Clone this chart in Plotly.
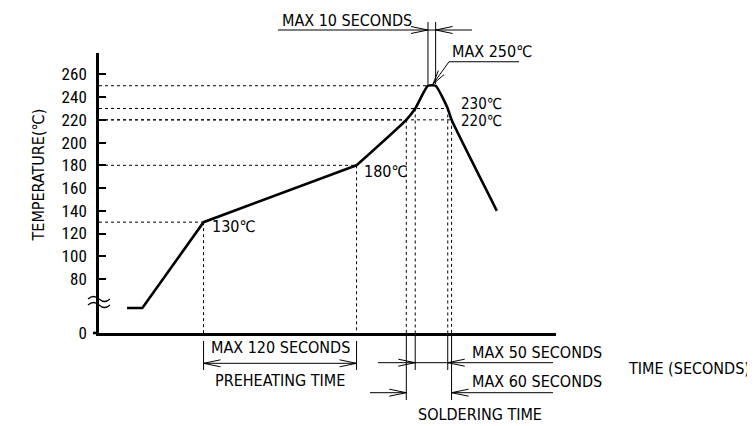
import plotly.graph_objects as go

# ---------------- data ----------------
time_s = [22, 34, 82, 202, 241, 248, 258, 264, 273.5, 276.5, 312]
temp_c = [22, 22, 130, 180, 220, 230, 250, 250, 230, 220, 140]

ytick_vals = [0, 80, 100, 120, 140, 160, 180, 200, 220, 240, 260]
ytick_text = [str(v) for v in ytick_vals]

# guide points (time, temperature) marked with dashed lines
guide_time = [82, 202, 241, 248, 273.5, 276.5]
guide_temp = [130, 180, 220, 230, 230, 220]
peak_temp = 250
peak_start, peak_end = 258, 264

preheat_window = (82, 202)      # MAX 120 SECONDS
above230_window = (248, 273.5)  # MAX 50 SECONDS
above220_window = (241, 276.5)  # MAX 60 SECONDS
peak_window = (258, 264)        # MAX 10 SECONDS

X_MAX = 358.4
BREAK_OFFSET = 32.5   # axis break: values below the break are shifted up
Y_LO, Y_HI = 32.5, 278.8


def axis_y(t):
    return t + BREAK_OFFSET if t < 60 else t


# ---------------- layout geometry ----------------
OFF = 8                      # page body margin of the html page
W, H = 755 - OFF, 426 - OFF
ML, MT = 99 - OFF, 53 - OFF
PW, PH = 457, 280
MR, MB = W - ML - PW, H - MT - PH


def px(xp):       # reference pixel x -> paper
    return (xp - OFF - ML) / PW


def py(yp):       # reference pixel y -> paper
    return (H - MB - (yp - OFF)) / PH


def pt(xp):       # reference pixel x -> time
    return px(xp) * X_MAX


BLACK = "black"
FONT = dict(family="DejaVu Sans Condensed, Roboto Condensed, sans-serif", size=16, color=BLACK)
SMALLFONT = dict(family="DejaVu Sans Condensed, Roboto Condensed, sans-serif", size=15, color=BLACK)
TICKFONT = dict(family="Roboto Condensed, DejaVu Sans Condensed, sans-serif", size=17, color=BLACK)

fig = go.Figure()

disp = [axis_y(t) for t in temp_c]
# lower straight part
fig.add_trace(go.Scatter(x=time_s[:4], y=disp[:4], mode="lines",
                         line=dict(color=BLACK, width=2.6), hoverinfo="skip"))
# reflow part (rounded)
fig.add_trace(go.Scatter(x=time_s[3:], y=disp[3:], mode="lines",
                         line=dict(color=BLACK, width=2.6, shape="spline", smoothing=0.5),
                         hoverinfo="skip"))

shapes = []
dash = dict(color=BLACK, width=1, dash="3px,3px")
thin = dict(color=BLACK, width=1)

# horizontal dashed guides
for t, v in zip(guide_time, guide_temp):
    shapes.append(dict(type="line", xref="x", yref="y", x0=0, x1=t, y0=v, y1=v, line=dash))
shapes.append(dict(type="line", xref="x", yref="y", x0=0, x1=peak_start,
                   y0=peak_temp, y1=peak_temp, line=dash))
# vertical dashed guides
for t, v in zip(guide_time, guide_temp):
    shapes.append(dict(type="line", xref="x", yref="y", x0=t, x1=t, y0=v, y1=Y_LO, line=dash))

# extension lines below the axis
ext = {82: (341, 370), 202: (341, 370), 241: (336, 400), 276.5: (336, 400),
       248: (336, 370), 273.5: (336, 370)}
for t, (a, b) in ext.items():
    shapes.append(dict(type="line", xref="x", yref="paper", x0=t, x1=t, y0=py(a), y1=py(b), line=thin))


def hline(x0, x1, ypap):
    shapes.append(dict(type="line", xref="x", yref="paper", x0=x0, x1=x1, y0=ypap, y1=ypap, line=thin))


def arrow(xa, ypap, direction, L=17, Wd=3.5, yref="paper"):
    s = 1 if direction == "left" else -1
    shapes.append(dict(type="path", xref="x", yref=yref, xsizemode="pixel", ysizemode="pixel",
                       xanchor=xa, yanchor=ypap,
                       path=f"M {s*L},{Wd} L 0,0 L {s*L},{-Wd}", line=thin))


# preheating dimension
y_pre = py(363.3)
hline(preheat_window[0], preheat_window[1], y_pre)
arrow(preheat_window[0], y_pre, "left")
arrow(preheat_window[1], y_pre, "right")

# max 50 seconds
y50 = py(362.7)
hline(pt(378), pt(553), y50)
arrow(above230_window[0], y50, "right")
arrow(above230_window[1], y50, "left")

# max 60 seconds
y60 = py(392.7)
hline(pt(370), above220_window[0], y60)
hline(above220_window[1], pt(553), y60)
arrow(above220_window[0], y60, "right")
arrow(above220_window[1], y60, "left")

# max 10 seconds (top)
y10 = py(30)
hline(pt(278), pt(472), y10)
arrow(peak_window[0], y10, "right")
arrow(peak_window[1], y10, "left")
for t in peak_window:
    shapes.append(dict(type="line", xref="x", yref="paper", x0=t, x1=t, y0=py(22), y1=py(84), line=thin))

# MAX 250 leader
tip_t, tip_y = pt(433), 251.5
knee_t, knee_y = pt(449), 271.1
shapes.append(dict(type="path", xref="x", yref="y",
                   path=f"M {tip_t},{tip_y} L {knee_t},{knee_y} L {pt(519)},{knee_y}", line=thin))
shapes.append(dict(type="path", xref="x", yref="y", xsizemode="pixel", ysizemode="pixel",
                   xanchor=tip_t, yanchor=tip_y,
                   path="M 5.4,13.4 L 0,0 L 11.0,9.4", line=thin))

# x-axis extension to the left of the y axis
shapes.append(dict(type="line", xref="paper", yref="paper", x0=px(93), x1=0, y0=0, y1=0,
                   line=dict(color=BLACK, width=2.6)))
# axis break symbol
yb = py(302)
shapes.append(dict(type="path", xref="paper", yref="paper", xsizemode="pixel", ysizemode="pixel",
                   xanchor=0, yanchor=yb,
                   path="M -11,3 Q -5.5,8 0,3 T 11,3 M -11,-3 Q -5.5,2 0,-3 T 11,-3",
                   line=dict(color=BLACK, width=1.2)))

annotations = []


def label(text, xp, yp, xanchor="center", font=FONT, **kw):
    annotations.append(dict(text=text, x=px(xp), y=py(yp), xref="paper", yref="paper",
                            xanchor=xanchor, yanchor="middle", showarrow=False, font=font, **kw))


label("130℃", 210, 226, "left")
label("180℃", 362, 171, "left")
label("230℃", 459, 103.5, "left", font=SMALLFONT, height=15)
label("220℃", 459, 120, "left", font=SMALLFONT, height=15)
label("MAX 120 SECONDS", 280, 347.5)
label("PREHEATING TIME", 279.5, 380.5)
label("MAX 50 SECONDS", 536.5, 352.5)
label("MAX 60 SECONDS", 536.5, 381.5)
label("SOLDERING TIME", 480, 414)
label("TIME (SECONDS)", 751, 368, "right", borderpad=0)
label("MAX 10 SECONDS", 346.5, 21)
label("MAX 250℃", 450, 51, "left")
label("TEMPERATURE(℃)", 37.5, 175, textangle=-90)

fig.update_layout(
    width=W, height=H,
    margin=dict(l=ML, r=MR, t=MT, b=MB, pad=0),
    paper_bgcolor="white", plot_bgcolor="white",
    showlegend=False,
    shapes=shapes, annotations=annotations,
    xaxis=dict(range=[0, X_MAX], showline=True, linecolor=BLACK, linewidth=2.6,
               showticklabels=False, ticks="", showgrid=False, zeroline=False, fixedrange=True),
    yaxis=dict(range=[Y_LO, Y_HI], showline=True, linecolor=BLACK, linewidth=2.6,
               tickvals=[axis_y(v) if v == 0 else v for v in ytick_vals], ticktext=ytick_text,
               ticks="inside", ticklen=7, tickwidth=2, tickcolor=BLACK,
               tickfont=TICKFONT, ticklabelstandoff=6,
               showgrid=False, zeroline=False, fixedrange=True),
)

fig.write_html("out.html")
